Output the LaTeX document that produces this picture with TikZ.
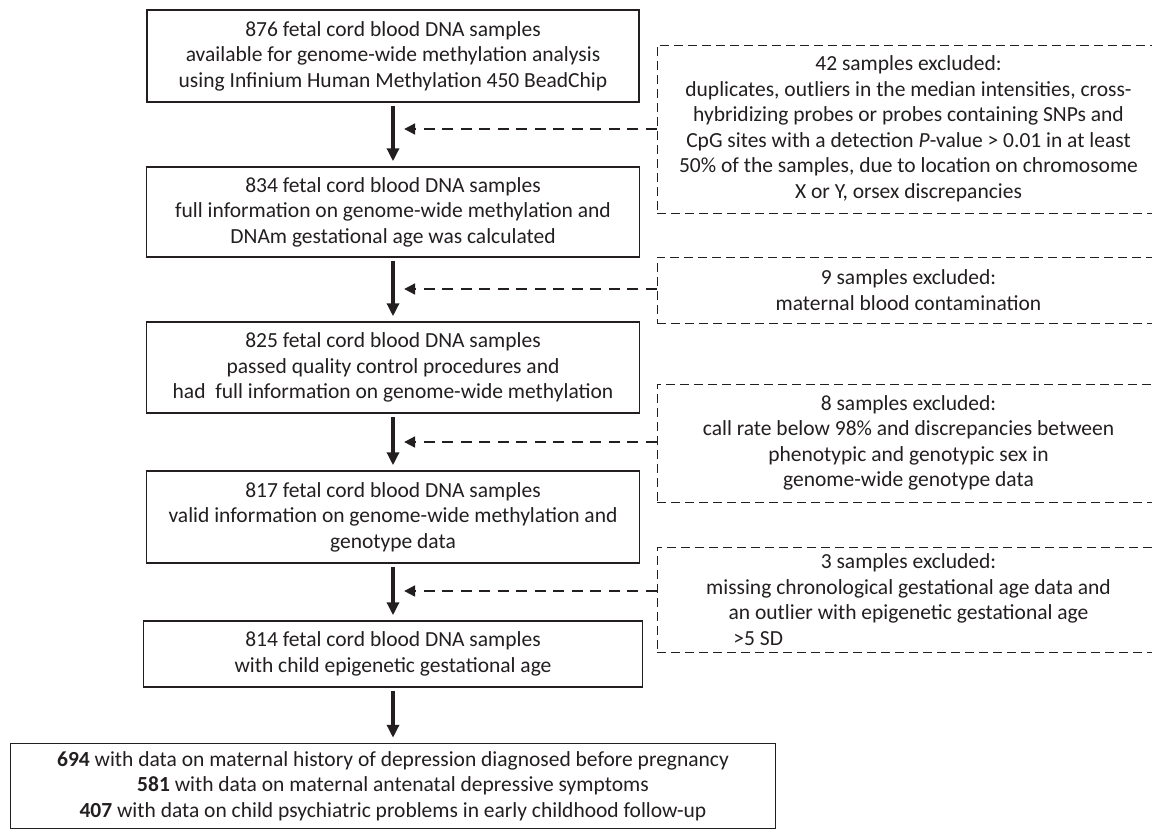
\documentclass[tikz,border=0pt]{standalone}
\usepackage{fontspec}
\setmainfont{Carlito}
\usepackage{calc}
\usetikzlibrary{arrows.meta}
\definecolor{ink}{RGB}{35,31,32}
\newcommand{\diagfont}{\fontsize{21.5}{25.5}\selectfont}
\begin{document}
\begin{tikzpicture}[x=1pt,y=-1pt,
  every node/.style={font=\diagfont, text=ink},
  mainbox/.style={draw=ink, line width=1.5pt, rectangle, align=center, inner sep=0pt},
  exclbox/.style={draw=ink, line width=1pt, dash pattern=on 9pt off 5pt, rectangle, align=center, inner sep=0pt},
  flowarrow/.style={draw=ink, line width=3.6pt, shorten <=3pt, shorten >=5pt, -{Triangle[length=13pt,width=12pt]}},
  exclarrow/.style={draw=ink, line width=2.8pt, dash pattern=on 11pt off 7.5pt, -{Triangle[length=11pt,width=10.5pt]}}
]
\useasboundingbox (0,0) rectangle (1152,830);
\clip (0,0) rectangle (1152,830);
\fill[white] (0,0) rectangle (1152,830);

\node[mainbox, minimum width=492pt, minimum height=92pt] (b1) at (393,56)
  {\diagfont 876 fetal cord blood DNA samples\\available for genome-wide methylation analysis\\using Infinium Human Methylation 450 BeadChip};
\node[mainbox, minimum width=493pt, minimum height=90pt] (b2) at (393,212)
  {\diagfont 834 fetal cord blood DNA samples\\full information on genome-wide methylation and\\DNAm gestational age was calculated};
\node[mainbox, minimum width=493pt, minimum height=91pt] (b3) at (393,367.5)
  {\diagfont 825 fetal cord blood DNA samples\\passed quality control procedures and\\had~ full information on genome-wide methylation};
\node[mainbox, minimum width=493pt, minimum height=92pt] (b4) at (393,517)
  {\diagfont 817 fetal cord blood DNA samples\\valid information on genome-wide methylation and\\genotype data};
\node[mainbox, minimum width=499pt, minimum height=66pt] (b5) at (393,654)
  {\diagfont 814 fetal cord blood DNA samples\\with child epigenetic gestational age};
\node[mainbox, minimum width=765pt, minimum height=85pt] (b6) at (393,786)
  {\diagfont \textbf{694} with data on maternal history of depression diagnosed before pregnancy\\\textbf{581} with data on maternal antenatal depressive symptoms\\\textbf{407} with data on child psychiatric problems in early childhood follow-up};

\node[exclbox, minimum width=503pt, minimum height=168pt] (d1) at (908.5,129)
  {\diagfont 42 samples excluded:\\duplicates, outliers in the median intensities, cross-\\hybridizing probes or probes containing SNPs and\\CpG sites with a detection \textit{P}-value > 0.01 in at least\\50\% of the samples, due to location on chromosome\\X or Y, orsex discrepancies};
\node[exclbox, minimum width=503pt, minimum height=66pt] (d2) at (908.5,290)
  {\diagfont 9 samples excluded:\\maternal blood contamination};
\node[exclbox, minimum width=503pt, minimum height=118pt] (d3) at (908.5,443)
  {\diagfont 8 samples excluded:\\call rate below 98\% and discrepancies between\\phenotypic and genotypic sex in\\genome-wide genotype data};
\node[exclbox, minimum width=503pt, minimum height=105pt] (d4) at (908.5,599.5)
  {\diagfont 3 samples excluded:\\missing chronological gestational age data and\\an outlier with epigenetic gestational age\\\makebox[\widthof{an outlier with epigenetic gestational age}][l]{\ >5 SD}};

\coordinate (t1) at (404,129);
\coordinate (t2) at (404,289);
\coordinate (t3) at (404,442);
\coordinate (t4) at (404,591);

\draw[flowarrow] (b1.south) -- (b2.north);
\draw[flowarrow] (b2.south) -- (b3.north);
\draw[flowarrow] (b3.south) -- (b4.north);
\draw[flowarrow] (b4.south) -- (b5.north);
\draw[flowarrow] (b5.south) -- (b6.north);

\draw[exclarrow] (d1.west |- t1) -- (t1);
\draw[exclarrow] (d2.west |- t2) -- (t2);
\draw[exclarrow] (d3.west |- t3) -- (t3);
\draw[exclarrow] (d4.west |- t4) -- (t4);
\end{tikzpicture}
\end{document}
